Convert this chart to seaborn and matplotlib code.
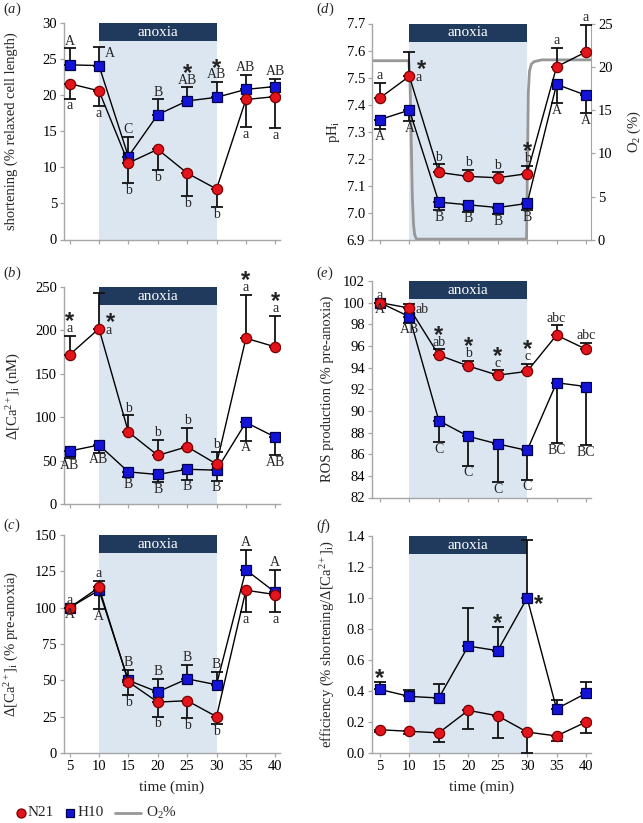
import matplotlib
matplotlib.use("Agg")
import matplotlib.pyplot as plt
import matplotlib.transforms as mtransforms
from matplotlib.patches import Rectangle
from matplotlib.lines import Line2D
from matplotlib.ticker import FormatStrFormatter
import seaborn as sns
import numpy as np

time = [5, 10, 15, 20, 25, 30, 35, 40]

# (a) shortening (% relaxed cell length)
a_n21 = [21.6, 20.6, 10.6, 12.5, 9.2, 7.0, 19.4, 19.8]
a_n21_sem = [2.1, 2.1, 2.8, 2.9, 3.2, 2.5, 3.8, 4.4]
a_h10 = [24.2, 24.1, 11.5, 17.3, 19.2, 19.7, 20.8, 21.2]
a_h10_sem = [2.3, 2.6, 2.7, 2.1, 1.9, 2.1, 2.0, 1.1]
a_n21_letters = ["a", "a", "b", "b", "b", "b", "a", "a"]
a_h10_letters = ["A", "A", "C", "B", "AB", "AB", "AB", "AB"]

# (b) delta Ca (nM)
b_n21 = [172, 202, 83, 56, 66, 46, 191, 181]
b_n21_sem = [22, 41, 19, 18, 22, 14, 50, 36]
b_h10 = [61, 68, 37, 34, 40, 39, 94, 77]
b_h10_sem = [8, 9, 6, 9, 12, 12, 21, 21]
b_n21_letters = ["a", "a", "b", "b", "b", "b", "a", "a"]
b_h10_letters = ["AB", "AB", "B", "B", "B", "B", "A", "AB"]

# (c) delta Ca (% pre-anoxia)
c_n21 = [100, 114, 49, 35, 36, 25, 112, 109]
c_n21_sem = [0, 4.5, 9, 10, 12, 5, 15, 12]
c_h10 = [100, 112, 50, 42, 51, 47, 126, 110.5]
c_h10_sem = [0, 13, 7.4, 8.8, 9.6, 9, 14, 15.5]
c_n21_letters = ["a", "a", "b", "b", "b", "b", "a", "a"]
c_h10_letters = ["A", "A", "B", "B", "B", "B", "A", "A"]

# (d) pHi and O2
d_n21 = [7.425, 7.505, 7.15, 7.135, 7.13, 7.145, 7.54, 7.595]
d_n21_sem = [0.055, 0.09, 0.03, 0.025, 0.02, 0.03, 0.07, 0.10]
d_h10 = [7.345, 7.38, 7.04, 7.03, 7.02, 7.035, 7.475, 7.435]
d_h10_sem = [0.035, 0.04, 0.03, 0.025, 0.025, 0.025, 0.07, 0.065]
d_n21_letters = ["a", "a", "b", "b", "b", "b", "a", "a"]
d_h10_letters = ["A", "A", "B", "B", "B", "B", "A", "A"]
o2_time = [3.7, 9.9, 10.1, 10.3, 10.5, 10.7, 10.9, 11.2, 29.9, 30.05, 30.2, 30.4, 30.7, 31.2, 32.5, 40.85]
o2_pct = [20.7, 20.7, 18.5, 12.0, 5.0, 1.8, 0.6, 0.1, 0.1, 8.0, 17.0, 19.5, 20.3, 20.6, 20.8, 20.8]

# (e) ROS production (% pre-anoxia)
e_n21 = [100, 99.5, 95.15, 94.15, 93.3, 93.65, 97.0, 95.7]
e_n21_sem = [0, 0.4, 0.55, 0.45, 0.45, 0.7, 0.9, 0.6]
e_h10 = [100, 98.7, 89.1, 87.65, 86.95, 86.35, 92.6, 92.25]
e_h10_sem = [0, 0.55, 2.0, 2.7, 3.55, 2.7, 5.55, 5.4]
e_n21_letters = ["a", "ab", "ab", "b", "c", "c", "abc", "abc"]
e_h10_letters = ["A", "AB", "C", "C", "C", "C", "BC", "BC"]

# (f) efficiency
f_n21 = [0.15, 0.14, 0.13, 0.275, 0.24, 0.135, 0.11, 0.2]
f_n21_sem = [0.015, 0.015, 0.06, 0.12, 0.145, 0.135, 0.035, 0.07]
f_h10 = [0.41, 0.365, 0.355, 0.69, 0.66, 1.0, 0.285, 0.385]
f_h10_sem = [0.045, 0.04, 0.09, 0.245, 0.15, 0.375, 0.055, 0.07]

sns.set_style("ticks")
plt.rcParams["font.family"] = ["Liberation Serif", "DejaVu Serif"]
plt.rcParams["mathtext.fontset"] = "custom"
plt.rcParams["mathtext.rm"] = "Liberation Serif"
plt.rcParams["mathtext.it"] = "Liberation Serif:italic"
plt.rcParams["mathtext.bf"] = "Liberation Serif:bold"

RED, RED_EDGE = "#e3141b", "#7a0000"
BLUE, BLUE_EDGE = "#1414d8", "#00004a"
SHADE, BAR, SPINE = "#dce6f1", "#1f3a5c", "#a6a6a6"
STAR = dict(ha="center", va="baseline", fontsize=17, fontweight="bold",
            family="Liberation Sans", color="#222222", zorder=6,
            textcoords="offset points")

W, H = 643, 823
fig = plt.figure(figsize=(W / 100, H / 100), dpi=100)


def rect(l, t, r, b):
    return [l / W, 1 - b / H, (r - l) / W, (b - t) / H]


def setup(ax, xlim, ylim, yticks, ylabel, labelx, bottom, fmt=None):
    ax.set_xlim(*xlim)
    ax.set_ylim(*ylim)
    ax.set_xticks(time)
    ax.set_yticks(yticks)
    if fmt:
        ax.yaxis.set_major_formatter(FormatStrFormatter(fmt))
    for s in ["top", "right"]:
        ax.spines[s].set_visible(False)
    for s in ["left", "bottom"]:
        ax.spines[s].set_color(SPINE)
        ax.spines[s].set_linewidth(1.0)
    ax.tick_params(axis="both", colors=SPINE, labelcolor="black", labelsize=10.5,
                   length=3, width=0.9, direction="out", pad=2)
    if bottom:
        ax.set_xlabel("time (min)", fontsize=11)
        ax.xaxis.set_label_coords(0.5, -0.125)
    else:
        ax.tick_params(axis="x", labelbottom=False)
    ax.set_ylabel(ylabel, fontsize=10.5)
    ax.yaxis.set_label_coords(labelx, 0.5)


def anoxia(ax, shade_ax=None):
    (shade_ax or ax).axvspan(10, 30, color=SHADE, lw=0, zorder=0)
    tr = mtransforms.blended_transform_factory(ax.transData, ax.transAxes)
    ax.add_patch(Rectangle((10, 0.916), 20, 0.084, transform=tr, color=BAR, lw=0, zorder=1))
    ax.text(20, 0.958, "anoxia", transform=tr, ha="center", va="center",
            color="white", fontsize=11, zorder=2)


def series(ax, y, sem, side, marker):
    y = np.array(y, dtype=float)
    sem = np.array(sem, dtype=float)
    side = np.broadcast_to(np.array(side), y.shape)
    lower = np.where(side < 0, sem, 0)
    upper = np.where(side > 0, sem, 0)
    ax.errorbar(time, y, yerr=[lower, upper], fmt="none", ecolor="#111111",
                elinewidth=1.3, capsize=4.3, capthick=1.3, zorder=3)
    if marker == "o":
        face, edge, ms = RED, RED_EDGE, 7.4
    else:
        face, edge, ms = BLUE, BLUE_EDGE, 6.8
    sns.lineplot(x=time, y=y, ax=ax, color="black", lw=1.0, marker=marker,
                 markersize=ms, markerfacecolor=face, markeredgecolor=edge,
                 markeredgewidth=0.9, errorbar=None, legend=False, zorder=4)
    return y, lower, upper


def notes(ax, vals, labels, places, stars):
    y, lower, upper = vals
    for i, t in enumerate(time):
        top, bot = y[i] + upper[i], y[i] - lower[i]
        lab = labels[i] if labels else ""
        pl = places[i] if places else ""
        if lab:
            if pl == "a":
                ax.annotate(lab, (t, top), xytext=(0, 0.5), textcoords="offset points",
                            ha="center", va="bottom", fontsize=10, zorder=6)
            elif pl == "b":
                ax.annotate(lab, (t, bot), xytext=(0, -0.5), textcoords="offset points",
                            ha="center", va="top", fontsize=10, zorder=6)
            elif pl == "r":
                ax.annotate(lab, (t, y[i]), xytext=(4.5, -1), textcoords="offset points",
                            ha="left", va="center", fontsize=10, zorder=6)
            elif pl == "ru":
                ax.annotate(lab, (t, y[i]), xytext=(4, 9), textcoords="offset points",
                            ha="left", va="center", fontsize=10, zorder=6)
        st = stars[i] if stars else ""
        if st == "a":
            dy = 5.5 if (lab and pl == "a") else -1.5
            ax.annotate("*", (t, top), xytext=(0, dy), **STAR)
        elif st == "r":
            ax.annotate("*", (t, y[i]), xytext=(8, -9.5), **STAR)
        elif st == "ru":
            ax.annotate("*", (t, y[i]), xytext=(8.5, 0), **STAR)


LX = (4.05, 40.8)
RX = (3.65, 40.85)
up, down = 1, -1
B8 = ["b"] * 8

# (a)
ax = fig.add_axes(rect(64, 23, 280, 239.5))
anoxia(ax)
hv = series(ax, a_h10, a_h10_sem, up, "s")
rv = series(ax, a_n21, a_n21_sem, down, "o")
notes(ax, hv, a_h10_letters, ["a", "ru", "a", "a", "a", "a", "a", "a"],
      ["", "", "", "", "a", "a", "", ""])
notes(ax, rv, a_n21_letters, B8, None)
setup(ax, LX, (0, 30), [0, 5, 10, 15, 20, 25, 30],
      "shortening (% relaxed cell length)", -0.215, False)

# (b)
ax = fig.add_axes(rect(64, 287, 280, 504))
anoxia(ax)
hv = series(ax, b_h10, b_h10_sem, down, "s")
rv = series(ax, b_n21, b_n21_sem, up, "o")
notes(ax, hv, b_h10_letters, B8, None)
notes(ax, rv, b_n21_letters, ["a", "r", "a", "a", "a", "a", "a", "a"],
      ["a", "ru", "", "", "", "", "a", "a"])
setup(ax, LX, (0, 250), [0, 50, 100, 150, 200, 250],
      r"$\Delta$[Ca$^{2+}$]$_\mathrm{i}$ (nM)", -0.19, False)

# (c)
ax = fig.add_axes(rect(64, 535, 280, 753))
anoxia(ax)
hv = series(ax, c_h10, c_h10_sem, [up, down, up, up, up, up, up, up], "s")
rv = series(ax, c_n21, c_n21_sem, [up, up, down, down, down, down, down, down], "o")
notes(ax, hv, c_h10_letters, ["b", "b", "a", "a", "a", "a", "a", "a"], None)
notes(ax, rv, c_n21_letters, ["a", "a", "b", "b", "b", "b", "b", "b"], None)
setup(ax, LX, (0, 150), [0, 25, 50, 75, 100, 125, 150],
      r"$\Delta$[Ca$^{2+}$]$_\mathrm{i}$ (% pre-anoxia)", -0.2, True)

# (d)
ax = fig.add_axes(rect(372, 23.5, 591, 240))
ax2 = ax.twinx()
ax.set_zorder(ax2.get_zorder() + 1)
ax.patch.set_visible(False)
anoxia(ax, shade_ax=ax2)
sns.lineplot(x=o2_time, y=o2_pct, ax=ax2, color="#979797", lw=2.0, errorbar=None, zorder=2)
hv = series(ax, d_h10, d_h10_sem, down, "s")
rv = series(ax, d_n21, d_n21_sem, up, "o")
notes(ax, hv, d_h10_letters, B8, None)
notes(ax, rv, d_n21_letters, ["a", "r", "a", "a", "a", "a", "a", "a"],
      ["", "ru", "", "", "", "a", "", ""])
setup(ax, RX, (6.9, 7.7), [6.9, 7.0, 7.1, 7.2, 7.3, 7.4, 7.5, 7.6, 7.7],
      r"pH$_\mathrm{i}$", -0.135, False, fmt="%.1f")
ax2.set_ylim(0, 25)
ax2.set_yticks([0, 5, 10, 15, 20, 25])
for s in ["top", "left", "bottom"]:
    ax2.spines[s].set_visible(False)
ax2.spines["right"].set_color(SPINE)
ax2.tick_params(axis="y", colors=SPINE, labelcolor="black", labelsize=10.5,
                length=3, width=0.9, direction="out", pad=2)
ax2.set_ylabel(r"O$_2$ (%)", fontsize=10.5)
ax2.yaxis.set_label_coords(1.16, 0.5)

# (e)
ax = fig.add_axes(rect(372, 281, 591, 497.5))
anoxia(ax)
hv = series(ax, e_h10, e_h10_sem, down, "s")
rv = series(ax, e_n21, e_n21_sem, up, "o")
notes(ax, hv, e_h10_letters, B8, None)
notes(ax, rv, e_n21_letters, ["a", "r", "a", "a", "a", "a", "a", "a"],
      ["", "", "a", "a", "a", "a", "", ""])
setup(ax, RX, (82, 102), list(range(82, 103, 2)),
      "ROS production (% pre-anoxia)", -0.175, False)

# (f)
ax = fig.add_axes(rect(372, 536, 591, 753))
anoxia(ax)
hv = series(ax, f_h10, f_h10_sem, up, "s")
rv = series(ax, f_n21, f_n21_sem, down, "o")
notes(ax, hv, None, None, ["a", "", "", "", "a", "r", "", ""])
setup(ax, RX, (0, 1.4), [0.0, 0.2, 0.4, 0.6, 0.8, 1.0, 1.2, 1.4],
      r"efficiency (% shortening/$\Delta$[Ca$^{2+}$]$_\mathrm{i}$)", -0.16, True, fmt="%.1f")

# panel letters
for lab, x, y in [("a", 3, 9), ("b", 3, 273), ("c", 3, 525),
                  ("d", 316, 9), ("e", 316, 273), ("f", 316, 526)]:
    fig.text(x / W, 1 - y / H, "($\\mathit{%s}$)" % lab, ha="left", va="center", fontsize=10.5)

# legend
ly = 1 - 813 / H
fig.add_artist(Line2D([21 / W], [ly], marker="o", ms=6.5, mfc=RED, mec=RED_EDGE, mew=0.9, ls="none"))
fig.text(28 / W, ly, "N21", ha="left", va="center", fontsize=11)
fig.add_artist(Line2D([70 / W], [ly], marker="s", ms=6, mfc=BLUE, mec=BLUE_EDGE, mew=0.9, ls="none"))
fig.text(78 / W, ly, "H10", ha="left", va="center", fontsize=11)
fig.add_artist(Line2D([115 / W, 141 / W], [ly, ly], color="#979797", lw=2.0))
fig.text(146 / W, ly, "O$_2$%", ha="left", va="center", fontsize=11)

fig.savefig("out.png", dpi=100)
